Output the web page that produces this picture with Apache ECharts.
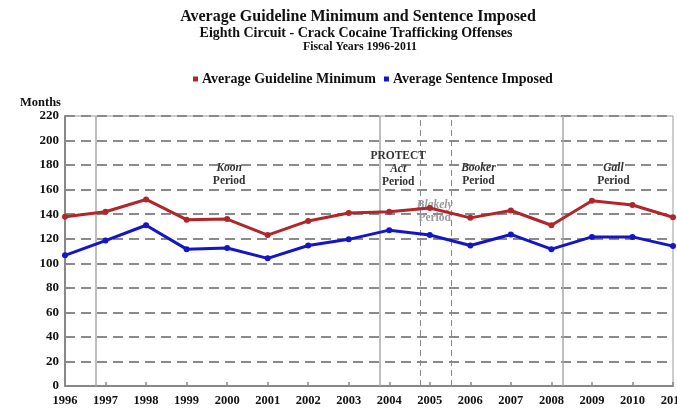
<!DOCTYPE html>
<html><head><meta charset="utf-8">
<script src="https://cdn.jsdelivr.net/npm/echarts@6/dist/echarts.min.js"></script>
<style>html,body{margin:0;padding:0;background:#fff}#c{width:677px;height:412px}</style>
</head><body><div id="c"></div>
<script>
const years = [1996,1997,1998,1999,2000,2001,2002,2003,2004,2005,2006,2007,2008,2009,2010,2011];
const guidelineMin = [138,142,152,135.5,136,123,134.5,141,142,145,137,143,131,151,147.5,137.5];
const sentenceImposed = [106.5,118.5,131,111.5,112.5,104,114.5,119.5,127,123,114.5,123.5,111.5,121.5,121.5,114];
const yTicks = [0,20,40,60,80,100,120,140,160,180,200,220];
const solidPeriodLines = [1996.77, 2003.76, 2008.27];
const dashedPeriodLines = [2004.77, 2005.53];
const periodLabels = [
  {x: 2000.05, y: 172, text: '{i|Koon}\nPeriod'},
  {x: 2004.22, y: 177, text: 'PROTECT\n{i|Act}\nPeriod'},
  {x: 2006.2, y: 172, text: '{i|Booker}\nPeriod'},
  {x: 2009.53, y: 172, text: '{i|Gall}\nPeriod'}
];
const blakelyLabel = {x: 2005.12, y: 142, text: '{i|Blakely}\nPeriod'};

const F = '"Liberation Serif", "DejaVu Serif", serif';
const chart = echarts.init(document.getElementById('c'));
const pair = arr => years.map((y, i) => [y, arr[i]]);

chart.setOption({
  animation: false,
  textStyle: {fontFamily: F},
  title: [
    {text: 'Average Guideline Minimum and Sentence Imposed', left: 353, textAlign: 'center', top: 4,
     textStyle: {fontFamily: F, fontSize: 16, fontWeight: 'bold', color: '#111'}},
    {text: 'Eighth Circuit - Crack Cocaine Trafficking Offenses', left: 351, textAlign: 'center', top: 21,
     textStyle: {fontFamily: F, fontSize: 14, fontWeight: 'bold', color: '#111'}},
    {text: 'Fiscal Years 1996-2011', left: 355, textAlign: 'center', top: 36,
     textStyle: {fontFamily: F, fontSize: 11.8, fontWeight: 'bold', color: '#111'}},
    {text: 'Months', left: 15, top: 91,
     textStyle: {fontFamily: F, fontSize: 12.5, fontWeight: 'bold', color: '#111'}}
  ],
  legend: {
    top: 67, left: 188,
    itemWidth: 5, itemHeight: 5, itemGap: 8,
    icon: 'rect',
    textStyle: {fontFamily: F, fontSize: 14, fontWeight: 'bold', color: '#111', padding: [0,0,0,-1]},
    data: ['Average Guideline Minimum', 'Average Sentence Imposed']
  },
  grid: {left: 65, right: 4, top: 116, bottom: 26, show: true, borderColor: '#9a9a9a', borderWidth: 1,
         containLabel: false, outerBoundsMode: 'none'},
  xAxis: {
    type: 'value', min: 1996, max: 2011, interval: 1,
    axisLine: {show: true, lineStyle: {color: '#888', width: 2}},
    axisTick: {show: true, inside: true, length: 4, lineStyle: {color: '#888', width: 1.5}},
    axisLabel: {fontFamily: F, fontSize: 12.5, fontWeight: 'bold', color: '#111', margin: 8,
                formatter: v => String(v)},
    splitLine: {show: false}
  },
  yAxis: {
    type: 'value', min: 0, max: 220, interval: 20,
    axisLine: {show: true, lineStyle: {color: '#888', width: 2}},
    axisTick: {show: false},
    axisLabel: {fontFamily: F, fontSize: 13, fontWeight: 'bold', color: '#111', margin: 6,
                formatter: v => yTicks.includes(v) ? String(v) : ''},
    splitLine: {show: true, lineStyle: {color: '#8a8a8a', width: 2, type: [10, 6]}}
  },
  series: [
    {
      name: 'Average Guideline Minimum', type: 'line', data: pair(guidelineMin),
      color: '#b0262a', lineStyle: {width: 3, color: '#b0262a'},
      symbol: 'circle', symbolSize: 6, itemStyle: {color: '#b0262a'}, z: 5,
      markLine: {
        silent: true, symbol: 'none', label: {show: false},
        data: solidPeriodLines.map(v => ({xAxis: v, lineStyle: {color: '#a8a8a8', width: 1.5, type: 'solid'}}))
          .concat(dashedPeriodLines.map(v => ({xAxis: v, lineStyle: {color: '#888', width: 1, type: [6, 4]}})))
      },
      markPoint: {
        silent: true, symbol: 'circle', symbolSize: 0,
        label: {show: true, position: 'inside', fontFamily: F, fontSize: 11.5, fontWeight: 'bold',
                color: '#333', lineHeight: 13, align: 'center',
                formatter: p => p.data.txt,
                rich: {i: {fontFamily: F, fontSize: 11.5, fontStyle: 'italic', fontWeight: 'bold', color: '#333'}}},
        data: periodLabels.map(l => ({coord: [l.x, l.y], txt: l.text}))
          .concat([{coord: [blakelyLabel.x, blakelyLabel.y], txt: blakelyLabel.text,
                    label: {color: '#999', rich: {i: {fontFamily: F, fontSize: 11.5, fontStyle: 'italic', color: '#999'}}}}])
      }
    },
    {
      name: 'Average Sentence Imposed', type: 'line', data: pair(sentenceImposed),
      color: '#1414c8', lineStyle: {width: 3, color: '#1414c8'},
      symbol: 'circle', symbolSize: 6, itemStyle: {color: '#1414c8'}, z: 5
    }
  ]
});
</script></body></html>
